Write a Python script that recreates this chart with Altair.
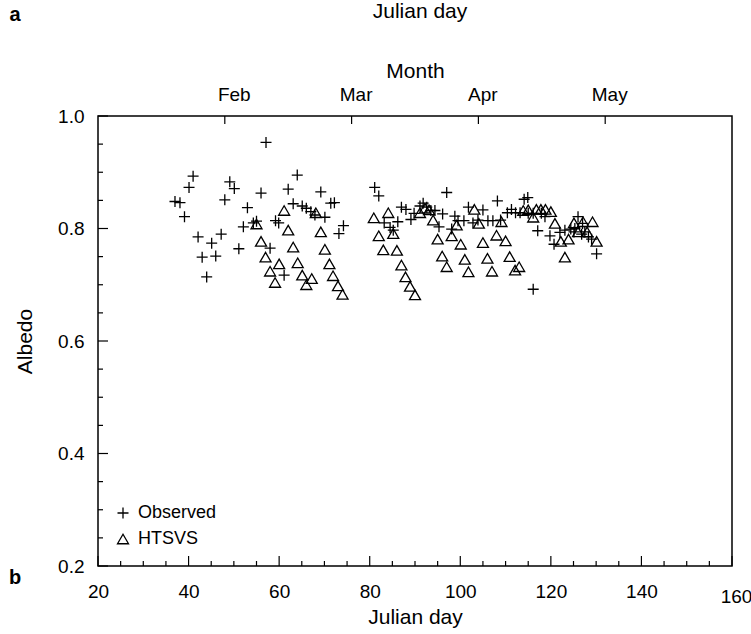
import altair as alt
import pandas as pd

FONT = "Liberation Sans"

# Observed albedo (Julian day, albedo)
obs_day = [37.0, 38.1, 39.1, 40.1, 41.0, 42.1, 43.0, 44.0, 45.1, 46.0, 47.2, 48.0, 49.1, 50.1,
           51.1, 52.1, 53.0, 54.3, 55.0, 56.0, 57.1, 58.0, 59.2, 59.9, 61.1, 62.0, 63.1, 64.0,
           65.1, 66.0, 67.0, 67.9, 69.2, 70.1, 71.4, 72.2, 73.2, 74.2,
           81.1, 82.0, 83.2, 84.5, 85.2, 86.2, 87.0, 88.0, 89.1, 89.8, 91.1, 91.8, 92.6, 93.5,
           94.4, 95.3, 96.1, 97.0, 98.1, 98.8, 99.5, 100.8, 101.8, 102.8, 103.9, 105.0, 106.1,
           107.2, 108.2, 108.9, 110.4, 111.3, 112.2, 113.2, 114.1, 114.9, 115.0, 116.1, 116.1,
           117.1, 117.9, 118.7, 119.8, 120.7, 122.0, 123.1, 124.4, 125.3, 125.1, 126.0, 126.8,
           127.0, 127.5, 128.3, 129.0, 130.1]
obs_alb = [0.848, 0.846, 0.821, 0.873, 0.893, 0.785, 0.749, 0.714, 0.774, 0.751, 0.790, 0.851, 0.883, 0.871,
           0.764, 0.803, 0.837, 0.810, 0.813, 0.863, 0.953, 0.765, 0.814, 0.810, 0.717, 0.870, 0.844, 0.895,
           0.840, 0.836, 0.830, 0.824, 0.865, 0.820, 0.845, 0.846, 0.791, 0.805,
           0.873, 0.858, 0.810, 0.802, 0.797, 0.812, 0.838, 0.834, 0.816, 0.827, 0.840, 0.845, 0.838, 0.832,
           0.832, 0.803, 0.826, 0.864, 0.799, 0.822, 0.814, 0.814, 0.838, 0.810, 0.815, 0.833, 0.814,
           0.814, 0.849, 0.815, 0.828, 0.834, 0.828, 0.828, 0.852, 0.855, 0.827, 0.827, 0.692,
           0.796, 0.827, 0.821, 0.787, 0.772, 0.793, 0.797, 0.799, 0.800, 0.794, 0.821, 0.790,
           0.809, 0.794, 0.785, 0.781, 0.755]

# HTSVS simulated albedo
sim_day = [55.0, 56.0, 57.0, 58.0, 59.1, 60.0, 61.1, 62.0, 63.1, 64.1, 65.1, 66.0, 67.2, 68.1,
           69.2, 70.1, 71.1, 71.9, 73.0, 74.0,
           80.9, 82.0, 83.0, 84.1, 85.2, 86.0, 87.0, 87.9, 88.9, 90.0, 91.1, 92.2, 93.1, 94.0,
           95.0, 96.0, 97.0, 98.1, 99.2, 100.1, 101.0, 101.8, 103.1, 104.1, 105.0, 106.0, 107.0,
           108.0, 109.1, 110.0, 110.9, 112.1, 113.0, 113.9, 115.0, 116.1, 116.8, 117.8, 118.8,
           120.0, 120.9, 122.2, 123.1, 123.9, 125.1, 126.0, 127.1, 128.0, 129.2, 130.1]
sim_alb = [0.808, 0.777, 0.749, 0.724, 0.704, 0.737, 0.832, 0.797, 0.767, 0.739, 0.717, 0.700, 0.711, 0.828,
           0.794, 0.763, 0.737, 0.716, 0.698, 0.683,
           0.819, 0.787, 0.762, 0.828, 0.791, 0.761, 0.735, 0.714, 0.697, 0.682, 0.828, 0.836, 0.833, 0.815,
           0.781, 0.751, 0.732, 0.787, 0.806, 0.772, 0.745, 0.723, 0.834, 0.809, 0.775, 0.747, 0.724,
           0.788, 0.812, 0.778, 0.750, 0.726, 0.732, 0.832, 0.833, 0.820, 0.834, 0.834, 0.834,
           0.830, 0.809, 0.777, 0.749, 0.781, 0.810, 0.794, 0.812, 0.794, 0.812, 0.777]

series_names = ["Observed", "HTSVS"]

x_major = [20, 40, 60, 80, 100, 120, 140, 160]
x_minor = [v for v in range(25, 160, 5) if v % 20 != 0]
y_major = [0.2, 0.4, 0.6, 0.8, 1.0]
y_minor = [0.25, 0.3, 0.35, 0.45, 0.5, 0.55, 0.65, 0.7, 0.75, 0.85, 0.9, 0.95]
month_pos = [48, 76, 104, 132]
month_lab = ["Feb", "Mar", "Apr", "May"]

W, H = 634, 450
PLUS = "M-1,0L1,0M0,-1L0,1"

pts = pd.DataFrame({
    "day": obs_day + sim_day,
    "albedo": obs_alb + sim_alb,
    "series": [series_names[0]] * len(obs_day) + [series_names[1]] * len(sim_day),
})

xscale = alt.Scale(domain=[20, 160], nice=False, zero=False)
yscale = alt.Scale(domain=[0.2, 1.0], nice=False, zero=False)

points = alt.Chart(pts).mark_point(filled=False, strokeWidth=1.3, size=121, opacity=1, color="black").encode(
    x=alt.X("day:Q", scale=xscale, axis=alt.Axis(
        orient="bottom", values=x_major, format="d", title="Julian day", ticks=False, domain=False,
        grid=False, labelFlush=False,
        labelPadding={"condition": {"test": "datum.value == 160", "value": 21}, "value": 16},
        labelOffset={"condition": {"test": "datum.value == 160", "value": 4}, "value": 0},
        titlePadding=0)),
    y=alt.Y("albedo:Q", scale=yscale, axis=alt.Axis(
        orient="left", values=y_major, format=".1f", title="Albedo", ticks=False, domain=False,
        grid=False, labelFlush=False, labelPadding=14, titlePadding=22)),
    shape=alt.Shape("series:N", scale=alt.Scale(domain=series_names, range=[PLUS, "triangle-up"]),
                    legend=alt.Legend(orient="none", legendX=16, legendY=388, title=None,
                                      labelFont=FONT, labelFontSize=18, labelColor="black",
                                      labelOffset=6, rowPadding=8, symbolSize=121,
                                      symbolStrokeWidth=1.3, symbolStrokeColor="black",
                                      symbolFillColor="transparent", padding=0)),
)

label_expr = " : ".join(f"datum.value == {p} ? '{l}'" for p, l in zip(month_pos, month_lab)) + " : ''"
months = pd.DataFrame({"mday": month_pos, "label": month_lab})
top = alt.Chart(months).mark_rule(color="black", strokeWidth=1.2).encode(
    x=alt.X("mday:Q", scale=xscale, axis=alt.Axis(
        orient="top", values=month_pos, labelExpr=label_expr, title="Month", ticks=False,
        domain=False, grid=False, labelFlush=False, labelPadding=12, titlePadding=4,
        labelOffset={"condition": {"test": "datum.value == 48", "value": 9}, "value": 4})),
    y=alt.value(0), y2=alt.value(8),
)

xmaj = alt.Chart(pd.DataFrame({"t": x_major})).mark_rule(color="black", strokeWidth=1.2).encode(
    x=alt.X("t:Q", scale=xscale, axis=None), y=alt.value(H), y2=alt.value(H - 10))
xmin = alt.Chart(pd.DataFrame({"t": x_minor})).mark_rule(color="black", strokeWidth=1.2).encode(
    x=alt.X("t:Q", scale=xscale, axis=None), y=alt.value(H), y2=alt.value(H - 5))
ymaj = alt.Chart(pd.DataFrame({"v": y_major})).mark_rule(color="black", strokeWidth=1.2).encode(
    y=alt.Y("v:Q", scale=yscale, axis=None), x=alt.value(0), x2=alt.value(10))
ymin = alt.Chart(pd.DataFrame({"v": y_minor})).mark_rule(color="black", strokeWidth=1.2).encode(
    y=alt.Y("v:Q", scale=yscale, axis=None), x=alt.value(0), x2=alt.value(5))


def note(txt, x, y, size, weight="normal"):
    return alt.Chart(alt.Data(values=[{}])).mark_text(
        text=txt, font=FONT, fontSize=size, fontWeight=weight, color="black",
        align="center", baseline="middle").encode(x=alt.value(x), y=alt.value(y))


t_a = note("a", -83, -101, 20, "bold")
t_b = note("b", -83, 462, 20, "bold")
t_top = note("Julian day", 322, -104, 21)

chart = alt.layer(points, top, xmaj, xmin, ymaj, ymin, t_a, t_b, t_top).resolve_axis(
    x="independent", y="independent"
).properties(
    width=W, height=H,
    autosize=alt.AutoSizeParams(type="none"),
    padding={"left": 98, "top": 116, "right": 19, "bottom": 68},
    background="white",
).configure_view(
    stroke="black", strokeWidth=1.5
).configure_axis(
    labelFont=FONT, labelFontSize=19, labelColor="black",
    titleFont=FONT, titleFontSize=21, titleFontWeight="normal", titleColor="black",
)

chart.save("out.html", embed_options={"renderer": "svg", "actions": False})
